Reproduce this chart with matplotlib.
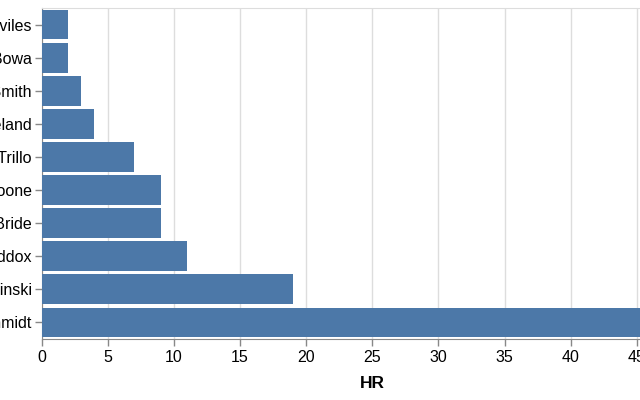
import matplotlib
matplotlib.use("Agg")
import matplotlib.pyplot as plt

players = ["Ramon Aviles", "Larry Bowa", "Lonnie Smith", "Keith Moreland", "Manny Trillo",
           "Bob Boone", "Bake McBride", "Garry Maddox", "Greg Luzinski", "Mike Schmidt"]
hr = [2, 2, 3, 4, 7, 9, 9, 11, 19, 48]
xticks = [0, 5, 10, 15, 20, 25, 30, 35, 40, 45, 50]

plt.rcParams['font.family'] = ['Liberation Sans', 'DejaVu Sans']

fig = plt.figure(figsize=(6.4, 4.0), dpi=100)
ax = fig.add_axes([41.5/640, 61/400, 661.5/640, 331/400])

pos = list(range(len(players)))
ax.barh(pos, hr, height=0.9, color="#4c78a8", zorder=3)
ax.set_xlim(0, 50)
ax.set_ylim(len(players) - 0.5, -0.5)
ax.set_yticks(pos)
ax.set_yticklabels(players, fontsize=11.5)
ax.set_xticks(xticks)
ax.set_xticklabels([str(t) for t in xticks], fontsize=11.5)
ax.grid(axis='x', color='#dddddd', linewidth=1, zorder=0)
ax.set_axisbelow(True)
for s in ['top', 'right']:
    ax.spines[s].set_color('#dddddd')
for s in ['left', 'bottom']:
    ax.spines[s].set_color('#888888')
ax.tick_params(axis='y', colors='#888888', length=5, width=1, labelcolor='black', pad=2)
ax.tick_params(axis='x', colors='#888888', length=5, width=1, labelcolor='black', pad=3)
ax.set_xlabel("HR", fontsize=12.5, fontweight='bold', labelpad=8)

fig.savefig("out.png", dpi=100)
